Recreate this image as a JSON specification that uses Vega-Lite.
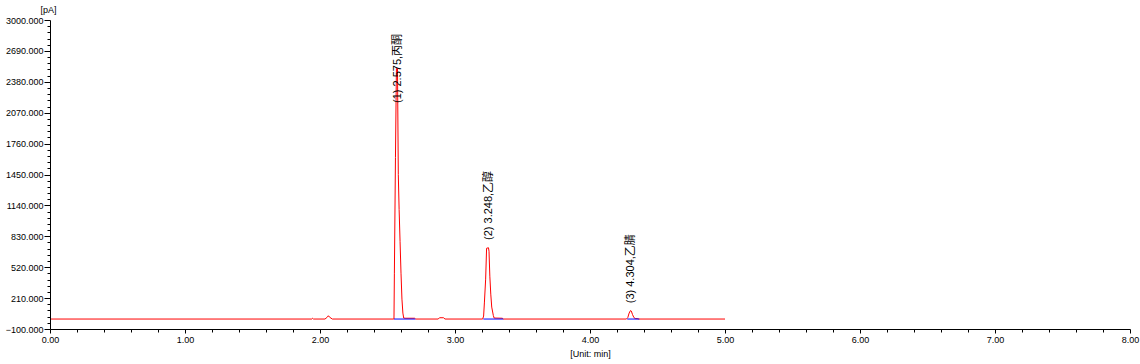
{
  "$schema": "https://vega.github.io/schema/vega-lite/v6.json",
  "width": 1080,
  "height": 309,
  "autosize": "none",
  "padding": {"left": 50, "top": 20, "right": 10, "bottom": 35},
  "background": "white",
  "config": {
    "view": {"stroke": null},
    "font": "Liberation Sans",
    "axis": {
      "domainColor": "black",
      "tickColor": "black",
      "labelColor": "black",
      "titleColor": "black",
      "grid": false,
      "labelFontSize": 9,
      "titleFontSize": 9,
      "titleFontWeight": "normal",
      "domainWidth": 1,
      "tickWidth": 1,
      "labelFont": "Liberation Sans",
      "titleFont": "Liberation Sans",
      "labelOverlap": false,
      "labelFlush": false,
      "labelBound": false
    }
  },
  "datasets": {
    "trace": [
      {"time": 0, "signal": 0},
      {"time": 1.94, "signal": 0},
      {"time": 1.946, "signal": 8},
      {"time": 1.952, "signal": 0},
      {"time": 2.037, "signal": 0},
      {"time": 2.055, "signal": 20},
      {"time": 2.062, "signal": 33},
      {"time": 2.07, "signal": 20},
      {"time": 2.091, "signal": 0},
      {"time": 2.543, "signal": 0},
      {"time": 2.548, "signal": 0},
      {"time": 2.551, "signal": 460},
      {"time": 2.559, "signal": 1620},
      {"time": 2.566, "signal": 2515},
      {"time": 2.574, "signal": 2515},
      {"time": 2.58, "signal": 1450},
      {"time": 2.586, "signal": 1100},
      {"time": 2.593, "signal": 780},
      {"time": 2.6, "signal": 460},
      {"time": 2.607, "signal": 200},
      {"time": 2.614, "signal": 60},
      {"time": 2.62, "signal": 10},
      {"time": 2.63, "signal": 8},
      {"time": 2.7, "signal": 8},
      {"time": 2.709, "signal": 0},
      {"time": 2.876, "signal": 0},
      {"time": 2.885, "signal": 13},
      {"time": 2.915, "signal": 13},
      {"time": 2.926, "signal": 0},
      {"time": 3.205, "signal": 0},
      {"time": 3.212, "signal": 30},
      {"time": 3.218, "signal": 170},
      {"time": 3.227, "signal": 400},
      {"time": 3.234, "signal": 710},
      {"time": 3.248, "signal": 715},
      {"time": 3.252, "signal": 680},
      {"time": 3.258, "signal": 430},
      {"time": 3.265, "signal": 250},
      {"time": 3.272, "signal": 120},
      {"time": 3.284, "signal": 35},
      {"time": 3.29, "signal": 10},
      {"time": 3.35, "signal": 8},
      {"time": 3.358, "signal": 0},
      {"time": 4.27, "signal": 0},
      {"time": 4.28, "signal": 15},
      {"time": 4.29, "signal": 60},
      {"time": 4.3, "signal": 85},
      {"time": 4.306, "signal": 80},
      {"time": 4.315, "signal": 45},
      {"time": 4.325, "signal": 15},
      {"time": 4.335, "signal": 5},
      {"time": 4.355, "signal": 3},
      {"time": 4.362, "signal": 0},
      {"time": 5, "signal": 0}
    ],
    "baselines": [
      {"peak": 1, "time": 2.548, "level": 0},
      {"peak": 1, "time": 2.706, "level": 0},
      {"peak": 2, "time": 3.21, "level": 0},
      {"peak": 2, "time": 3.358, "level": 0},
      {"peak": 3, "time": 4.276, "level": 0},
      {"peak": 3, "time": 4.365, "level": 0}
    ],
    "peaks": [
      {"label": "(1) 2.575,丙酮", "time": 2.578, "pos": 2167},
      {"label": "(2) 3.248,乙醇", "time": 3.251, "pos": 793},
      {"label": "(3) 4.304,乙腈", "time": 4.307, "pos": 158}
    ]
  },
  "resolve": {"axis": {"x": "independent", "y": "independent"}},
  "layer": [
    {
      "data": {"name": "trace"},
      "mark": {"type": "line", "color": "#ff0000", "strokeWidth": 1, "clip": true},
      "encoding": {
        "x": {
          "field": "time",
          "type": "quantitative",
          "scale": {"domain": [0, 8], "nice": false, "zero": false},
          "axis": {
            "orient": "bottom",
            "values": [0, 1, 2, 3, 4, 5, 6, 7, 8],
            "format": ".2f",
            "tickSize": 4,
            "labelPadding": 2,
            "title": "[Unit: min]",
            "titleY": 24,
            "titleBaseline": "middle",
            "zindex": 1
          }
        },
        "y": {
          "field": "signal",
          "type": "quantitative",
          "scale": {"domain": [-100, 3000], "nice": false, "zero": false},
          "axis": {
            "orient": "left",
            "values": [-100, 210, 520, 830, 1140, 1450, 1760, 2070, 2380, 2690, 3000],
            "format": ".3f",
            "tickSize": 6,
            "labelPadding": 1,
            "title": "[pA]",
            "titleAngle": 0,
            "titleX": -2,
            "titleY": -11,
            "titleAlign": "center",
            "titleBaseline": "middle",
            "zindex": 1
          }
        }
      }
    },
    {
      "data": {"name": "baselines"},
      "mark": {"type": "line", "color": "#0000ff", "strokeWidth": 1},
      "encoding": {
        "x": {
          "field": "time",
          "type": "quantitative",
          "axis": {
            "orient": "bottom",
            "values": [0.2,0.4,0.6,0.8,1.2,1.4,1.6,1.8,2.2,2.4,2.6,2.8,3.2,3.4,3.6,3.8,4.2,4.4,4.6,4.8,5.2,5.4,5.6,5.8,6.2,6.4,6.6,6.8,7.2,7.4,7.6,7.8],
            "labels": false,
            "title": null,
            "tickSize": 3,
            "domain": false
          }
        },
        "y": {
          "field": "level",
          "type": "quantitative",
          "axis": {
            "orient": "left",
            "values": [-38,24,86,148,272,334,396,458,582,644,706,768,892,954,1016,1078,1202,1264,1326,1388,1512,1574,1636,1698,1822,1884,1946,2008,2132,2194,2256,2318,2442,2504,2566,2628,2752,2814,2876,2938],
            "labels": false,
            "title": null,
            "tickSize": 3,
            "domain": false
          }
        },
        "detail": {"field": "peak", "type": "nominal"}
      }
    },
    {
      "data": {"name": "peaks"},
      "mark": {"type": "text", "angle": 270, "align": "left", "baseline": "middle", "fontSize": 11, "font": "Liberation Sans, Noto Sans CJK SC", "color": "black"},
      "encoding": {
        "x": {"field": "time", "type": "quantitative", "axis": null},
        "y": {"field": "pos", "type": "quantitative", "axis": null},
        "text": {"field": "label"}
      }
    }
  ]
}
